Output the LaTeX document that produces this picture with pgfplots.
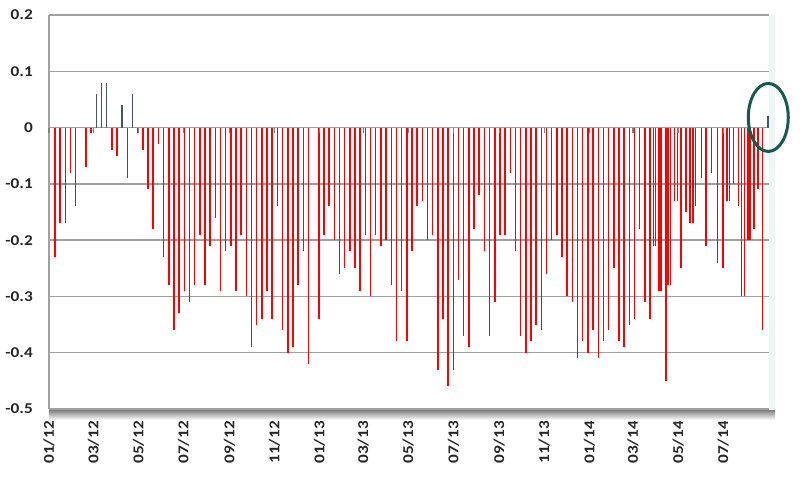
\documentclass[border=0pt]{standalone}
\usepackage{fontspec}
\setmainfont{Carlito}[FakeStretch=1.15]
\usepackage{pgfplots}
\usepackage{pgfplotstable}
\pgfplotsset{compat=1.18}
\definecolor{barred}{RGB}{255,0,0}
\definecolor{barblue}{RGB}{68,84,106}
\definecolor{gridgray}{RGB}{160,160,160}
\definecolor{ringgreen}{RGB}{23,89,79}
\definecolor{shade}{RGB}{226,241,241}

% x = days since 1 Jan 2012
\pgfplotstableread{
day val
8 -0.23
15 -0.17
22 -0.17
29 -0.08
36 -0.14
50 -0.07
57 -0.01
85 -0.04
92 -0.05
106 -0.09
120 -0.01
127 -0.04
134 -0.11
141 -0.18
148 -0.03
155 -0.23
162 -0.28
169 -0.36
176 -0.33
183 -0.29
190 -0.31
197 -0.28
204 -0.19
211 -0.28
218 -0.21
225 -0.16
232 -0.29
239 -0.22
246 -0.21
253 -0.29
260 -0.19
267 -0.30
274 -0.39
281 -0.35
288 -0.34
295 -0.29
302 -0.34
309 -0.14
316 -0.36
323 -0.40
330 -0.39
337 -0.28
344 -0.22
351 -0.42
365 -0.34
372 -0.19
379 -0.14
386 -0.20
393 -0.26
400 -0.25
407 -0.22
414 -0.25
421 -0.29
428 -0.19
435 -0.30
442 -0.19
449 -0.21
456 -0.20
463 -0.28
470 -0.38
477 -0.29
484 -0.38
491 -0.22
498 -0.14
505 -0.13
512 -0.20
519 -0.19
526 -0.43
533 -0.34
540 -0.46
547 -0.43
554 -0.27
561 -0.37
568 -0.39
575 -0.18
582 -0.12
589 -0.22
596 -0.37
603 -0.31
610 -0.19
617 -0.19
624 -0.08
631 -0.22
638 -0.37
645 -0.40
652 -0.38
659 -0.35
666 -0.36
673 -0.26
680 -0.20
687 -0.19
694 -0.23
701 -0.30
708 -0.31
715 -0.41
722 -0.38
729 -0.40
736 -0.36
743 -0.41
750 -0.38
757 -0.36
764 -0.25
771 -0.38
778 -0.39
785 -0.35
792 -0.34
799 -0.18
806 -0.31
813 -0.34
818 -0.21
820.5 -0.21
825 -0.29
828 -0.29
834.5 -0.45
837.5 -0.28
841 -0.28
846 -0.13
850 -0.13
855 -0.25
862 -0.15
867 -0.17
871.5 -0.17
874.5 -0.14
882.5 -0.09
889 -0.21
896 -0.08
904 -0.24
911.5 -0.25
917 -0.13
920.5 -0.13
926 -0.10
932.5 -0.14
937 -0.30
940.5 -0.30
945.5 -0.20
948.5 -0.20
954 -0.18
959 -0.11
965.5 -0.36
}\negdata

\pgfplotstableread{
day val
64 0.06
71 0.08
78 0.08
99 0.04
113 0.06
972.5 0.02
}\posdata

\begin{document}
\begin{tikzpicture}
\path (-49pt,-68pt) rectangle (751pt,409pt);
\begin{axis}[
  at={(0pt,0pt)}, anchor=south west,
  scale only axis, width=720pt, height=394pt,
  xmin=0, xmax=974, ymin=-0.5, ymax=0.2,
  axis x line*=bottom, axis y line*=left,
  axis line style={gridgray, line width=1.3pt},
  ymajorgrids, grid style={gridgray, line width=1.3pt},
  ytick={-0.5,-0.4,-0.3,-0.2,-0.1,0,0.1,0.2},
  yticklabels={-0.5,-0.4,-0.3,-0.2,-0.1,0,0.1,0.2},
  xtick={0,60,121,182,244,305,366,425,486,547,609,670,731,790,851,912},
  xticklabels={01/12,03/12,05/12,07/12,09/12,11/12,01/13,03/13,05/13,07/13,09/13,11/13,01/14,03/14,05/14,07/14},
  major tick length=0pt,
  tick label style={font=\fontsize{15}{18}\selectfont\bfseries, text=black!85},
  xticklabel style={rotate=90, anchor=east, inner sep=0pt},
  xticklabel shift=12pt,
  yticklabel style={anchor=east, inner sep=0pt},
  yticklabel shift=16pt,
  clip=false,
]
\fill[shade] ([yshift=-11pt]rel axis cs:0,0) rectangle ([xshift=6pt,yshift=-1pt]rel axis cs:1,0);
\fill[shade!60] ([yshift=-1pt]rel axis cs:1,0) rectangle ([xshift=6pt]rel axis cs:1,1);
\addplot[ycomb, barred, line width=1.5pt, mark=none] table[x=day, y=val] {\negdata};
\addplot[ycomb, barblue, line width=1.5pt, mark=none] table[x=day, y=val] {\posdata};
\pgfplotsinvokeforeach{0,60,121,182,244,305,366,425,486,547,609,670,731,790,851,912}{
  \draw[gray, line width=1.2pt] (axis cs:#1,0) -- ([yshift=-5pt]axis cs:#1,0);
}
\draw[ringgreen, line width=3pt] (axis cs:973,0.018) ellipse [x radius=20pt, y radius=34pt];
\end{axis}
\end{tikzpicture}
\end{document}
